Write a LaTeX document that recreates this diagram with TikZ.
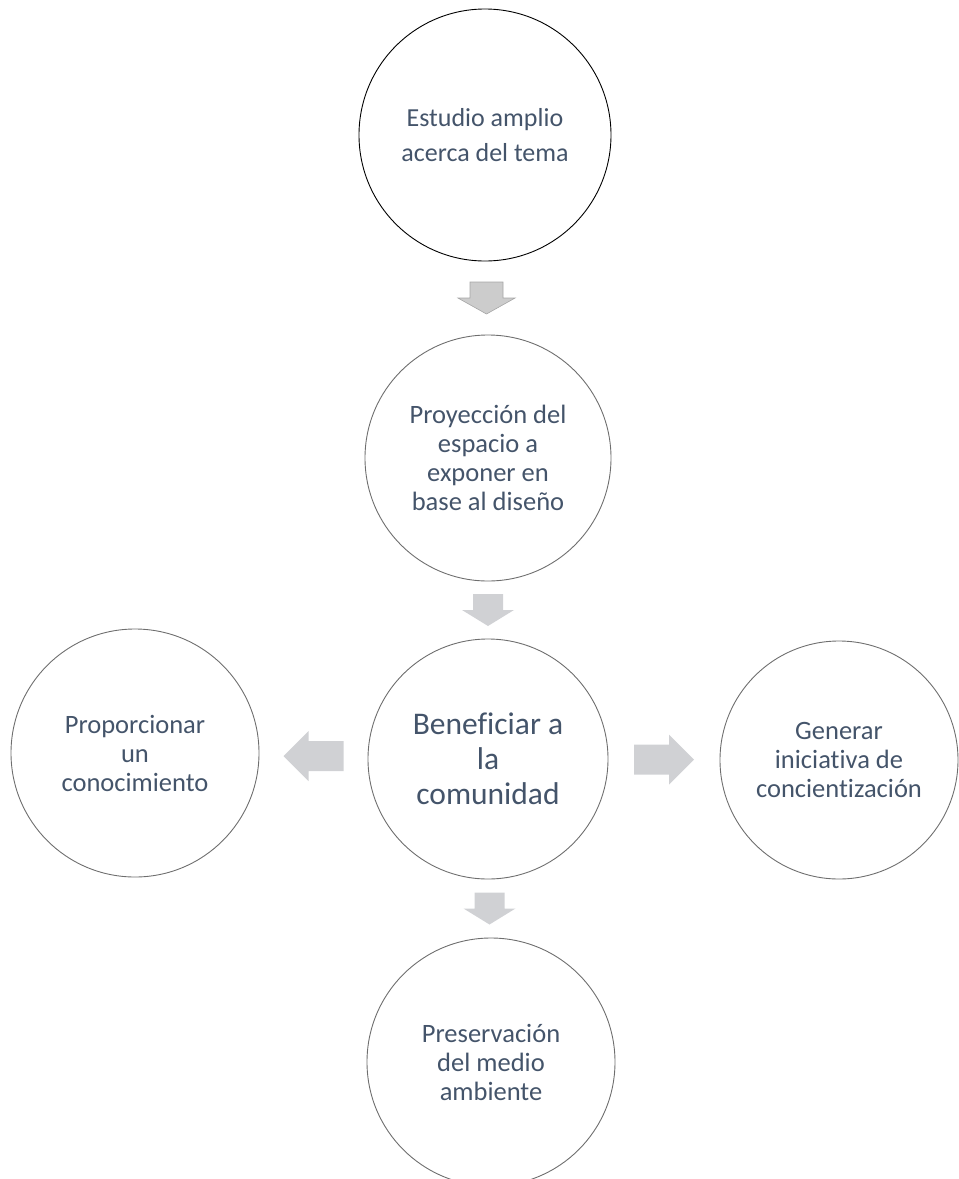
\documentclass[tikz,border=0pt]{standalone}
\usepackage{fontspec}
\setmainfont[Ligatures=NoCommon]{Carlito}
\usetikzlibrary{calc}
\definecolor{textslate}{HTML}{44546A}
\definecolor{arrowgray}{HTML}{D0D1D4}
\definecolor{ringgray}{HTML}{6E6E6E}
\tikzset{
  bubble/.style={circle, draw=ringgray, line width=.9pt, text=textslate, align=center, inner sep=0pt,
    font=\fontsize{26.5}{29}\selectfont},
  topbubble/.style={bubble, draw=black, font=\fontsize{26}{35}\selectfont},
  bigbubble/.style={bubble, font=\fontsize{31.5}{35}\selectfont},
  blockarr/.style={fill=arrowgray},
  downarr/.pic={\path[blockarr] (-15,-16)--(15,-16)--(15,0)--(26,0)--(0,16)--(-26,0)--(-15,0)--cycle;},
  sidearr/.pic={\path[blockarr] (-30,-15)--(5,-15)--(5,-25)--(30,0)--(5,25)--(5,15)--(-30,15)--cycle;}
}
\begin{document}
\begin{tikzpicture}[x=1pt, y=-1pt]
 \useasboundingbox (0,0) rectangle (959,1179);
 \clip (0,0) rectangle (959,1179);
 % circulos
 \node[topbubble, minimum size=252pt] (estudio) at (485,135) {Estudio amplio\\acerca del tema};
 \node[bubble, minimum size=246pt] (proyeccion) at (488,458) {Proyección del\\espacio a\\exponer en\\base al diseño};
 \node[bigbubble, minimum size=240pt] (beneficiar) at (488,759) {Beneficiar a\\la\\comunidad};
 \node[bubble, minimum size=248pt] (proporcionar) at (135,753) {Proporcionar\\un\\conocimiento};
 \node[bubble, minimum size=238pt] (generar) at (839,760) {Generar\\iniciativa de\\concientización};
 \node[bubble, minimum size=248pt] (preservacion) at (491,1062) {Preservación\\del medio\\ambiente};
 % flechas
 \pic[blockarr/.append style={fill=gray!40, draw=gray!70, line width=.6pt}, xscale=1.1] at ($(estudio.south)!.5!(proyeccion.north)$) {downarr};
 \pic at ($(proyeccion.south)!.5!(beneficiar.north)$) {downarr};
 \pic at ($(beneficiar.south)!.5!(preservacion.north)$) {downarr};
 \pic[xscale=-1] at ($(beneficiar.west)!.5!(proporcionar.east)$) {sidearr};
 \pic at ($(beneficiar.east)!.5!(generar.west)$) {sidearr};
\end{tikzpicture}
\end{document}
